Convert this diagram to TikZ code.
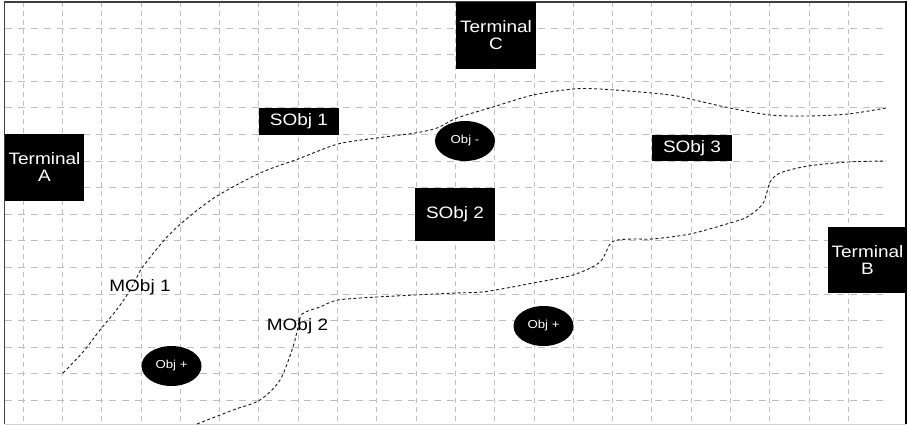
\documentclass[tikz,border=0pt]{standalone}
\usepackage{fontspec}
\setmainfont{Liberation Sans}
\newfontfamily\boxfont[FakeStretch=1.15]{Liberation Sans}
\usetikzlibrary{shapes.geometric}
\tikzset{
  vgrid/.style={draw=black!25, line width=0.8pt, dash pattern=on 5pt off 4pt},
  hgrid/.style={draw=black!25, line width=0.8pt, dash pattern=on 7pt off 6pt},
  blk/.style={fill=black, text=white, inner sep=0pt, align=center,
    font=\boxfont\fontsize{16.5}{17}\selectfont},
  obj/.style={ellipse, fill=black, text=white, inner sep=0pt,
    minimum width=60pt, minimum height=40pt,
    font=\boxfont\fontsize{11.5}{12}\selectfont},
  bound/.style={draw=black!90, line width=0.9pt, dash pattern=on 3pt off 2.5pt},
  lbl/.style={inner sep=0pt, text=black, font=\boxfont\fontsize{16.5}{17}\selectfont}
}
\begin{document}
\begin{tikzpicture}[x=1pt, y=-1pt]
\useasboundingbox (0,0) rectangle (909,425);
\fill[white] (0,0) rectangle (909,425);
% grid
\foreach \k in {0,...,21} {
  \draw[vgrid] ({23+39.3*\k},2) -- ({23+39.3*\k},424);
}
\foreach \k in {0,...,14} {
  \draw[hgrid] (5,{28+26.6*\k}) -- (886,{28+26.6*\k});
}
% frame
\draw[black!75, line width=1.2pt] (4.5,424) -- (4.5,2) -- (906,2);
\draw[black, line width=1.5pt] (906,1.5) -- (906,424);
\draw[black!18, line width=1pt] (4.5,424) -- (906,424);
% boundaries
\draw[bound] plot[smooth, tension=0.5] coordinates {
  (63,373) (83,352) (100,330) (118,308) (132,287) (142,268) (167,237)
  (190,216) (217,196) (260,173) (298,159) (338,144) (377,138) (415,133)
  (437,128) (457,118) (493,107) (533,95) (573,89) (600,89) (652,93)
  (677,96) (690,99) (730,108) (770,115) (808,116) (848,114) (886,108)};
\draw[bound] plot[smooth, tension=0.5] coordinates {
  (197,424) (233,410) (260,400) (280,380) (293,347) (298,327) (302,314)
  (320,307) (338,300) (377,297) (415,295) (457,293) (482,292) (507,288)
  (533,283) (573,275) (600,262) (612,242) (633,239) (652,239) (690,234)
  (730,223) (747,217) (762,205) (767,192) (770,182) (780,173) (808,166)
  (848,162) (886,161)};
% terminals and static objects
\node[blk, minimum width=79pt, minimum height=67pt] (ta) at (44.5,167.5) {Terminal\\A};
\node[blk, minimum width=80pt, minimum height=67pt] (tc) at (496,35.5) {Terminal\\C};
\node[blk, minimum width=79pt, minimum height=66pt] (tb) at (867.5,260) {Terminal\\B};
\node[blk, minimum width=80pt, minimum height=27pt] (s1) at (299,121.5) {SObj 1};
\node[blk, minimum width=80pt, minimum height=53pt] (s2) at (455,214.5) {SObj 2};
\node[blk, minimum width=80pt, minimum height=26pt] (s3) at (692,148) {SObj 3};
% objects
\node[obj] (om) at (465,141) {Obj -};
\node[obj] (op1) at (171.5,366) {Obj +};
\node[obj] (op2) at (543.5,326) {Obj +};
% labels
\node[lbl] (m1) at (140,287) {MObj 1};
\node[lbl] (m2) at (297.5,326) {MObj 2};
\end{tikzpicture}
\end{document}
